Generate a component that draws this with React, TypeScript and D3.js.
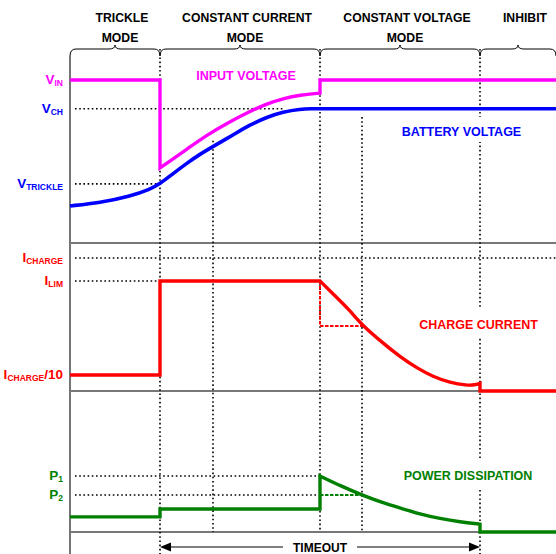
import React from 'react';
import * as d3 from 'd3';

const W = 556;
const H = 554;

// ---- phases (time in arbitrary units) ----
const phaseTitles = ['TRICKLE', 'CONSTANT CURRENT', 'CONSTANT VOLTAGE', 'INHIBIT'];
const phaseSubtitles = ['MODE', 'MODE', 'MODE', ''];
const phaseBounds = [0, 9, 25, 41, 48.6];
const markerTimes = [14.3, 29.2];
const markerStartVolts = [3.2, 3.94];

// ---- voltage panel ----
const vinLevel = 5.1;
const vchLevel = 4.2;
const vtrickleLevel = 1.85;
const inputStepA: [number, number][] = [[0, 5.1], [9, 5.1], [9, 2.35]];
const inputCurve: [number, number][] = [[9, 2.35], [9.7, 2.5], [11.7, 2.94], [13.7, 3.38], [15.7, 3.75], [18, 4.12], [19.7, 4.36], [21.3, 4.52], [23, 4.63], [25, 4.69]];
const inputStepB: [number, number][] = [[25, 4.69], [25, 5.1], [48.6, 5.1]];
const batteryCurve: [number, number][] = [[0, 1.16], [3, 1.26], [6, 1.46], [8, 1.68], [9, 1.85], [10.3, 2.17], [11.7, 2.5], [13, 2.78], [14.3, 3.02], [16.3, 3.38], [18, 3.7], [19.7, 3.94], [21.3, 4.1], [23, 4.19], [24.3, 4.2]];
const batteryFlat: [number, number][] = [[24.3, 4.2], [48.6, 4.2]];

// ---- current panel ----
const iChargeLevel = 1.0;
const iLimLevel = 0.827;
const iTrickleLevel = 0.12;
const currentStep: [number, number][] = [[0, 0.12], [9, 0.12], [9, 0.827], [25, 0.827]];
const currentCurve: [number, number][] = [[25, 0.827], [26.3, 0.73], [28, 0.605], [29.2, 0.495], [31.3, 0.36], [33, 0.258], [34.7, 0.172], [36.3, 0.108], [38, 0.062], [39.7, 0.042], [40.5, 0.045], [41, 0.058]];
const currentTail: [number, number][] = [[41, 0.058], [41, 0], [48.6, 0]];
const currentDashed: [number, number][] = [[25, 0.827], [25, 0.489], [29.2, 0.489]];

// ---- power panel ----
const p1Level = 1.0;
const p2Level = 0.66;
const powerStep: [number, number][] = [[0, 0.27], [9, 0.27], [9, 0.41], [25, 0.41], [25, 1.0]];
const powerCurve: [number, number][] = [[25, 1.0], [27.1, 0.82], [29.2, 0.66], [31.3, 0.52], [33, 0.43], [35, 0.32], [37, 0.24], [39, 0.18], [41, 0.14]];
const powerTail: [number, number][] = [[41, 0.14], [41, 0], [48.6, 0]];
const powerDashed: [number, number][] = [[25, 0.66], [29.2, 0.66]];

const voltLabels = [
  { main: 'V', sub: 'IN', tail: '', value: vinLevel },
  { main: 'V', sub: 'CH', tail: '', value: vchLevel },
  { main: 'V', sub: 'TRICKLE', tail: '', value: vtrickleLevel },
];
const currentLabels = [
  { main: 'I', sub: 'CHARGE', tail: '', value: iChargeLevel },
  { main: 'I', sub: 'LIM', tail: '', value: iLimLevel },
  { main: 'I', sub: 'CHARGE', tail: '/10', value: iTrickleLevel },
];
const powerLabels = [
  { main: 'P', sub: '1', tail: '', value: p1Level },
  { main: 'P', sub: '2', tail: '', value: p2Level },
];

const MAGENTA = '#ff00ff';
const BLUE = '#0000ff';
const RED = '#ff0000';
const GREEN = '#008000';
const FONT = '"Liberation Sans", Arial, Helvetica, sans-serif';

export default function App() {
  const x = d3.scaleLinear().domain([0, 48.6]).range([70, 556]);
  const yV = d3.scaleLinear().domain([0, 5.1]).range([243, 80]);
  const yI = d3.scaleLinear().domain([0, 1]).range([391, 258]);
  const yP = d3.scaleLinear().domain([0, 1]).range([532, 476]);

  const mk = (ys: d3.ScaleLinear<number, number>, curve: d3.CurveFactory) =>
    d3.line<[number, number]>().x((d) => x(d[0])).y((d) => ys(d[1])).curve(curve);

  const join = (ys: d3.ScaleLinear<number, number>, parts: { pts: [number, number][]; smooth: boolean }[]) =>
    parts
      .map((p, i) => {
        const s = mk(ys, p.smooth ? d3.curveBasis : d3.curveLinear)(p.pts) || '';
        return i === 0 ? s : s.replace(/^M/, 'L');
      })
      .join('');

  const inputPath = join(yV, [
    { pts: inputStepA, smooth: false },
    { pts: inputCurve, smooth: true },
    { pts: inputStepB, smooth: false },
  ]);
  const batteryPath = join(yV, [
    { pts: batteryCurve, smooth: true },
    { pts: batteryFlat, smooth: false },
  ]);
  const currentPath = join(yI, [
    { pts: currentStep, smooth: false },
    { pts: currentCurve, smooth: true },
    { pts: currentTail, smooth: false },
  ]);
  const powerPath = join(yP, [
    { pts: powerStep, smooth: false },
    { pts: powerCurve, smooth: true },
    { pts: powerTail, smooth: false },
  ]);
  const currentDashPath = mk(yI, d3.curveLinear)(currentDashed) || '';
  const powerDashPath = mk(yP, d3.curveLinear)(powerDashed) || '';

  const dot = { stroke: '#000', strokeWidth: 1.6, strokeDasharray: '1.6 2.6', fill: 'none' };
  const gray = { stroke: '#777', strokeWidth: 2 };
  const axisX = x(0);
  const labelX = 63;
  const braceTop = 49;
  const braceEnd = 56;
  const braceTip = 45;

  const brace = (x1: number, x2: number) => {
    const xm = (x1 + x2) / 2;
    return `M${x1},${braceEnd} Q${x1},${braceTop} ${x1 + 6},${braceTop} L${xm - 6},${braceTop} Q${xm},${braceTop} ${xm},${braceTip} Q${xm},${braceTop} ${xm + 6},${braceTop} L${x2 - 6},${braceTop} Q${x2},${braceTop} ${x2},${braceEnd}`;
  };

  const renderLabel = (
    l: { main: string; sub: string; tail: string; value: number },
    ys: d3.ScaleLinear<number, number>,
    color: string,
    key: string
  ) => (
    <text key={key} x={labelX} y={ys(l.value) + 4} textAnchor="end" fill={color} fontWeight="bold" fontSize={13.5} fontFamily={FONT}>
      <tspan>{l.main}</tspan>
      <tspan fontSize={8.5} dy={2}>{l.sub}</tspan>
      {l.tail ? <tspan fontSize={13.5} dy={-2}>{l.tail}</tspan> : null}
    </text>
  );

  const arrowY = 547;
  const tStart = x(phaseBounds[1]);
  const tEnd = x(phaseBounds[3]);
  const tMid = x(phaseBounds[2]);

  return (
    <svg width={W} height={H} style={{ position: 'absolute', left: 0, top: 0, background: '#fff' }} fontFamily={FONT}>
      <rect x={0} y={0} width={W} height={H} fill="#fff" />

      {/* header */}
      {phaseTitles.map((t, i) => {
        const cx = (x(phaseBounds[i]) + x(phaseBounds[i + 1])) / 2 + 7;
        return (
          <g key={'ph' + i}>
            <text x={cx} y={22} textAnchor="middle" fontWeight="bold" fontSize={12.2} fill="#000">{t}</text>
            {phaseSubtitles[i] ? (
              <text x={cx - 2} y={42} textAnchor="middle" fontWeight="bold" fontSize={12.2} fill="#000">{phaseSubtitles[i]}</text>
            ) : null}
            <path d={brace(x(phaseBounds[i]), x(phaseBounds[i + 1]))} fill="none" stroke="#000" strokeWidth={1} />
          </g>
        );
      })}

      {/* axis + separators */}
      <line x1={axisX} x2={axisX} y1={braceEnd} y2={H} stroke="#666" strokeWidth={1.8} />
      <line x1={axisX} x2={W} y1={yV(0)} y2={yV(0)} {...gray} />
      <line x1={axisX} x2={W} y1={yI(0)} y2={yI(0)} {...gray} />
      <line x1={axisX} x2={W} y1={yP(0)} y2={yP(0)} {...gray} />

      {/* vertical dotted lines */}
      <line x1={x(phaseBounds[1])} x2={x(phaseBounds[1])} y1={braceTop} y2={H} style={dot} />
      <line x1={x(phaseBounds[2])} x2={x(phaseBounds[2])} y1={braceTop} y2={yP(0)} style={dot} />
      <line x1={x(phaseBounds[3])} x2={x(phaseBounds[3])} y1={braceTop} y2={H} style={dot} />
      {markerTimes.map((t, i) => (
        <line key={'m' + i} x1={x(t)} x2={x(t)} y1={yV(markerStartVolts[i])} y2={yP(0)} style={dot} />
      ))}

      {/* horizontal dotted reference lines */}
      <line x1={75} x2={x(21.5)} y1={yV(vchLevel)} y2={yV(vchLevel)} style={dot} />
      <line x1={75} x2={x(phaseBounds[1])} y1={yV(vtrickleLevel)} y2={yV(vtrickleLevel)} style={dot} />
      <line x1={75} x2={W} y1={yI(iChargeLevel)} y2={yI(iChargeLevel)} style={dot} />
      <line x1={75} x2={x(phaseBounds[1])} y1={yI(iLimLevel)} y2={yI(iLimLevel)} style={dot} />
      <line x1={75} x2={x(phaseBounds[2])} y1={yP(p1Level)} y2={yP(p1Level)} style={dot} />
      <line x1={75} x2={x(phaseBounds[2]) - 4} y1={yP(p2Level)} y2={yP(p2Level)} style={dot} />

      {/* inside labels with white backing */}
      <rect x={396} y={117} width={132} height={25} fill="#fff" />
      <rect x={414} y={307} width={128} height={31} fill="#fff" />
      <rect x={398} y={460} width={140} height={28} fill="#fff" />

      <text x={246} y={80} textAnchor="middle" fontWeight="bold" fontSize={12.5} fill={MAGENTA}>INPUT VOLTAGE</text>
      <text x={461.5} y={135.5} textAnchor="middle" fontWeight="bold" fontSize={12.5} fill={BLUE}>BATTERY VOLTAGE</text>
      <text x={478.5} y={328.5} textAnchor="middle" fontWeight="bold" fontSize={12.5} fill={RED}>CHARGE CURRENT</text>
      <text x={468} y={479.5} textAnchor="middle" fontWeight="bold" fontSize={12.5} fill={GREEN}>POWER DISSIPATION</text>

      {/* dashed construction lines */}
      <path d={currentDashPath} fill="none" stroke={RED} strokeWidth={2} strokeDasharray="3.5 1.5" />
      <path d={powerDashPath} fill="none" stroke={GREEN} strokeWidth={2} strokeDasharray="3.5 1.5" />

      {/* curves */}
      <path d={batteryPath} fill="none" stroke={BLUE} strokeWidth={3.6} strokeLinejoin="miter" />
      <path d={inputPath} fill="none" stroke={MAGENTA} strokeWidth={3.4} strokeLinejoin="miter" />
      <path d={currentPath} fill="none" stroke={RED} strokeWidth={3.4} strokeLinejoin="miter" />
      <path d={powerPath} fill="none" stroke={GREEN} strokeWidth={3.4} strokeLinejoin="miter" />

      {/* left labels */}
      {voltLabels.map((l, i) => renderLabel(l, yV, i === 0 ? MAGENTA : BLUE, 'v' + i))}
      {currentLabels.map((l, i) => renderLabel(l, yI, RED, 'i' + i))}
      {powerLabels.map((l, i) => renderLabel(l, yP, GREEN, 'p' + i))}

      {/* timeout arrow */}
      <line x1={tStart + 9} x2={tMid - 37} y1={arrowY} y2={arrowY} stroke="#000" strokeWidth={1.2} />
      <line x1={tMid + 37} x2={tEnd - 9} y1={arrowY} y2={arrowY} stroke="#000" strokeWidth={1.2} />
      <polygon points={`${tStart},${arrowY} ${tStart + 11},${arrowY - 4.5} ${tStart + 11},${arrowY + 4.5}`} fill="#000" />
      <polygon points={`${tEnd},${arrowY} ${tEnd - 11},${arrowY - 4.5} ${tEnd - 11},${arrowY + 4.5}`} fill="#000" />
      <text x={tMid} y={arrowY + 4.5} textAnchor="middle" fontWeight="bold" fontSize={12} fill="#000">TIMEOUT</text>
    </svg>
  );
}
